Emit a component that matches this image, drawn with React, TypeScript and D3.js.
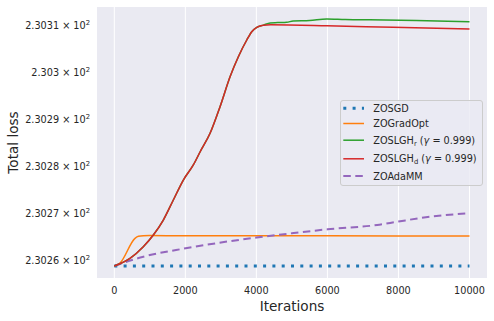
import React, { useRef, useEffect } from "react";
import * as d3 from "d3";

// iterations / total loss
const sgdIter = [0, 10000];
const sgdLoss = [230.25894, 230.25894];

const gradIter = [0, 160, 583, 680, 817, 1000, 2000, 4000, 6000, 8000, 10000];
const gradLoss = [230.25894, 230.25957, 230.26483, 230.26525, 230.26538, 230.2654, 230.26538, 230.26537, 230.26535, 230.26533, 230.26532];

const lghIter = [0, 442, 817, 1099, 1380, 1662, 1944, 2225, 2414, 2696, 2977, 3259, 3493, 3730, 3870, 4011, 4197];
const lghLoss = [230.25894, 230.26057, 230.26304, 230.26553, 230.26872, 230.27298, 230.27723, 230.28043, 230.28319, 230.28717, 230.29283, 230.29921, 230.30347, 230.30702, 230.30879, 230.30972, 230.31018];

const greenTailIter = [4386, 4600, 4856, 5034, 5500, 5983, 6500, 6921, 8500, 10000];
const greenTailLoss = [230.31066, 230.31072, 230.31079, 230.31108, 230.31118, 230.31149, 230.31138, 230.31134, 230.31115, 230.31091];

const redTailIter = [4400, 5983, 7851, 10000];
const redTailLoss = [230.31025, 230.31006, 230.30972, 230.30936];

const adaIter = [0, 817, 2011, 4011, 5000, 6000, 7400, 8000, 8900, 10000];
const adaLoss = [230.25894, 230.26091, 230.2627, 230.265, 230.2659, 230.26674, 230.26766, 230.2684, 230.26943, 230.27015];

const xTicks = [0, 2000, 4000, 6000, 8000, 10000];
const yTicks = [230.26, 230.27, 230.28, 230.29, 230.3, 230.31];
const yTickLabels = ["2.3026", "2.3027", "2.3028", "2.3029", "2.303", "2.3031"];

const W = 494, H = 321;
const M = { left: 97, right: 487, top: 7, bottom: 278 };
const TEXT = "#262626";
const FONT = "DejaVu Sans, sans-serif";
const FS = 9.7;

type Pt = [number, number];
const zip = (xs: number[], ys: number[]): Pt[] => xs.map((x, i) => [x, ys[i]]);

const series = [
  { name: "sgd", color: "#1f77b4", width: 3, dash: "3 6.3", pts: zip(sgdIter, sgdLoss) },
  { name: "grad", color: "#ff7f0e", width: 1.5, dash: null, pts: zip(gradIter, gradLoss) },
  { name: "ada", color: "#9467bd", width: 2, dash: "7.5 4.5", pts: zip(adaIter, adaLoss) },
  { name: "green", color: "#2ca02c", width: 1.5, dash: null, pts: zip(lghIter, lghLoss).concat(zip(greenTailIter, greenTailLoss)) },
  { name: "red", color: "#d62728", width: 1.5, dash: null, pts: zip(lghIter, lghLoss).concat(zip(redTailIter, redTailLoss)) },
];

export default function App() {
  const svgRef = useRef<SVGSVGElement>(null);

  useEffect(() => {
    const svg = d3.select(svgRef.current);
    svg.selectAll("*").remove();

    const x = d3.scaleLinear().domain([-487, 10493]).range([M.left, M.right]);
    const y = d3.scaleLog().domain([230.256383, 230.314043]).range([M.bottom, M.top]);

    svg.append("rect")
      .attr("x", M.left).attr("y", M.top)
      .attr("width", M.right - M.left).attr("height", M.bottom - M.top)
      .attr("fill", "#eaeaf2");

    // vertical grid only (y ticks are minor log ticks)
    svg.append("g").selectAll("line").data(xTicks).join("line")
      .attr("x1", d => x(d)).attr("x2", d => x(d))
      .attr("y1", M.top).attr("y2", M.bottom)
      .attr("stroke", "#fff").attr("stroke-width", 1);

    svg.append("g").selectAll("text").data(xTicks).join("text")
      .attr("x", d => x(d)).attr("y", 294)
      .attr("text-anchor", "middle")
      .attr("font-size", FS).attr("font-family", FONT).attr("fill", TEXT)
      .text(d => d);

    const yt = svg.append("g").selectAll("text").data(yTicks).join("text")
      .attr("x", 90).attr("y", d => y(d) + 3.4)
      .attr("text-anchor", "end")
      .attr("font-size", FS).attr("font-family", FONT).attr("fill", TEXT);
    yt.append("tspan").text((d, i) => yTickLabels[i] + " \u00d7 10");
    yt.append("tspan").attr("dy", -4).attr("font-size", 6.8).text("2");

    svg.append("text")
      .attr("x", (M.left + M.right) / 2).attr("y", 311)
      .attr("text-anchor", "middle")
      .attr("font-size", 13.6).attr("font-family", FONT).attr("fill", TEXT)
      .text("Iterations");

    svg.append("text")
      .attr("transform", `translate(17.5,${(M.top + M.bottom) / 2}) rotate(-90)`)
      .attr("text-anchor", "middle")
      .attr("font-size", 13.6).attr("font-family", FONT).attr("fill", TEXT)
      .text("Total loss");

    const line = d3.line<Pt>()
      .x(d => x(d[0]))
      .y(d => y(d[1]))
      .curve(d3.curveMonotoneX);

    svg.append("g").selectAll("path").data(series).join("path")
      .attr("d", d => line(d.pts))
      .attr("fill", "none")
      .attr("stroke", d => d.color)
      .attr("stroke-width", d => d.width)
      .attr("stroke-dasharray", d => d.dash)
      .attr("stroke-linejoin", "round");

    // legend
    const lg = svg.append("g");
    lg.append("rect")
      .attr("x", 340.5).attr("y", 100.5).attr("width", 142).attr("height", 85)
      .attr("rx", 2.5)
      .attr("fill", "#eaeaf2").attr("fill-opacity", 0.8)
      .attr("stroke", "#cccccc").attr("stroke-width", 1);

    const items = [
      { color: "#1f77b4", width: 3, dash: "3 6.3", y: 108.3, main: "ZOSGD", sub: "" },
      { color: "#ff7f0e", width: 1.5, dash: null, y: 123.5, main: "ZOGradOpt", sub: "" },
      { color: "#2ca02c", width: 1.5, dash: null, y: 140.2, main: "ZOSLGH", sub: "r" },
      { color: "#d62728", width: 1.5, dash: null, y: 158.8, main: "ZOSLGH", sub: "d" },
      { color: "#9467bd", width: 2, dash: "7.5 4.5", y: 176, main: "ZOAdaMM", sub: "" },
    ];
    const row = lg.selectAll("g").data(items).join("g");
    row.append("line")
      .attr("x1", 343.3).attr("x2", 364)
      .attr("y1", d => d.y).attr("y2", d => d.y)
      .attr("stroke", d => d.color)
      .attr("stroke-width", d => d.width)
      .attr("stroke-dasharray", d => d.dash);
    const t = row.append("text")
      .attr("x", 373.3).attr("y", d => d.y + 3.5)
      .attr("font-size", FS).attr("font-family", FONT).attr("fill", TEXT);
    t.append("tspan").text(d => d.main);
    t.filter(d => d.sub !== "").each(function (d) {
      const el = d3.select(this);
      el.append("tspan").attr("dy", 2).attr("font-size", 6.8).text(d.sub);
      el.append("tspan").attr("dy", -2).text(" (");
      el.append("tspan").attr("font-style", "italic").text("\u03b3");
      el.append("tspan").text(" = 0.999)");
    });
  }, []);

  return (
    <svg ref={svgRef} width={W} height={H} style={{ position: "absolute", left: 0, top: 0, background: "#fff" }} />
  );
}
